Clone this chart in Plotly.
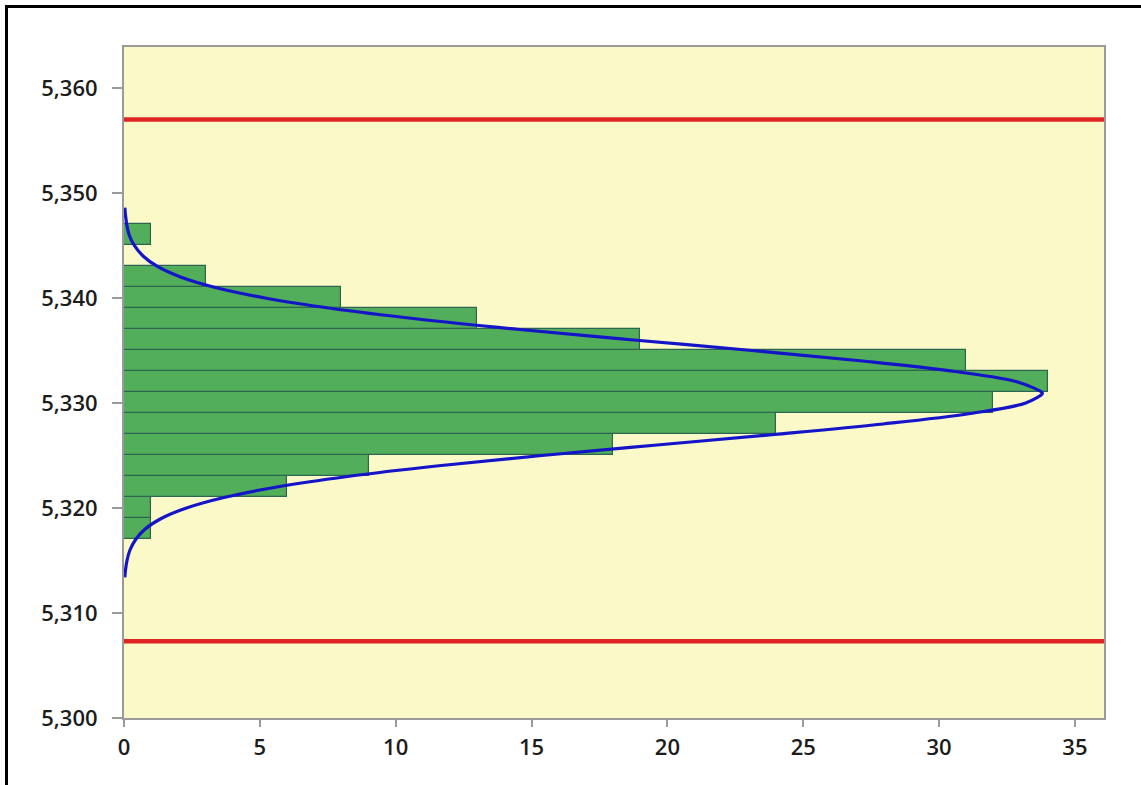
import plotly.graph_objects as go

# Histogram bins (centers) and counts
bin_centers = [5.318, 5.320, 5.322, 5.324, 5.326, 5.328, 5.330, 5.332,
               5.334, 5.336, 5.338, 5.340, 5.342, 5.344, 5.346]
bin_counts = [1, 1, 6, 9, 18, 24, 32, 34, 31, 19, 13, 8, 3, 0, 1]
bin_width = 0.002

# Fitted normal curve points
curve_y = [5.3134, 5.314, 5.315, 5.316, 5.317, 5.318, 5.319, 5.320, 5.321,
           5.322, 5.323, 5.324, 5.325, 5.326, 5.327, 5.328, 5.329, 5.330,
           5.3309, 5.331, 5.332, 5.333, 5.334, 5.335, 5.336, 5.337, 5.338,
           5.339, 5.340, 5.341, 5.342, 5.343, 5.344, 5.345, 5.346, 5.347,
           5.348, 5.3486]
curve_x = [0.03, 0.05, 0.11, 0.22, 0.43, 0.78, 1.37, 2.30, 3.68,
           5.63, 8.23, 11.50, 15.38, 19.62, 23.95, 27.94, 31.15, 33.19,
           33.80, 33.79, 32.89, 30.59, 27.19, 23.11, 18.76, 14.56, 10.80,
           7.66, 5.19, 3.36, 2.08, 1.23, 0.70, 0.38, 0.19, 0.10,
           0.05, 0.03]

# Specification limits
usl = 5.357
lsl = 5.3073

y_ticks = [5.300, 5.310, 5.320, 5.330, 5.340, 5.350, 5.360]
y_tick_text = ["5,300", "5,310", "5,320", "5,330", "5,340", "5,350", "5,360"]
x_ticks = [0, 5, 10, 15, 20, 25, 30, 35]

fig = go.Figure()

fig.add_trace(go.Bar(
    x=bin_counts, y=bin_centers, orientation="h", width=bin_width,
    marker=dict(color="#52AE5A", line=dict(color="#2C6652", width=1.2)),
    hoverinfo="x+y",
))

fig.add_trace(go.Scatter(
    x=curve_x, y=curve_y, mode="lines",
    line=dict(color="#1414C8", width=3.2, shape="spline"),
))

for v in (usl, lsl):
    fig.add_shape(type="line", xref="paper", x0=0, x1=1, yref="y", y0=v, y1=v,
                  line=dict(color="#E02424", width=4.5), layer="above")

W, H = 1141, 785
L, R, T, B = 124, 37, 47, 67
pw, ph = W - L - R, H - T - B


def px(xp):
    return (xp - L) / pw


def py(yp):
    return 1 - (yp - T) / ph


# outer frame (left and top black border of the picture)
fig.add_shape(type="line", xref="paper", yref="paper",
              x0=px(6.5), x1=px(W + 5), y0=py(6.5), y1=py(6.5),
              line=dict(color="black", width=3))
fig.add_shape(type="line", xref="paper", yref="paper",
              x0=px(6.5), x1=px(6.5), y0=py(5), y1=py(H + 5),
              line=dict(color="black", width=3))

fig.update_layout(
    width=W, height=H,
    margin=dict(l=L, r=R, t=T, b=B, pad=0),
    paper_bgcolor="white",
    plot_bgcolor="#FCF9C9",
    showlegend=False,
    bargap=0,
    font=dict(family="Open Sans, DejaVu Sans, sans-serif", size=22,
              color="#1c1c1c", weight=600),
)
fig.update_xaxes(
    range=[0, 36.07], tickvals=x_ticks, ticks="outside", ticklen=7,
    tickcolor="#9a9a9a", tickwidth=1.5, showgrid=False, zeroline=False,
    showline=True, linecolor="#9a9a9a", linewidth=2, mirror=True,
    tickfont=dict(size=22, weight=600), ticklabelstandoff=2,
)
fig.update_yaxes(
    range=[5.300, 5.3639], tickvals=y_ticks, ticktext=y_tick_text,
    ticks="outside", ticklen=10, tickcolor="#9a9a9a", tickwidth=1.5,
    showgrid=False, zeroline=False, showline=True, linecolor="#9a9a9a",
    linewidth=2, mirror=True, tickfont=dict(size=22, weight=600),
    ticklabelstandoff=10,
)

fig.write_html(
    "out.html",
    config={"displayModeBar": False},
    post_script="document.body.style.margin='0px';document.body.style.overflow='hidden';",
)
